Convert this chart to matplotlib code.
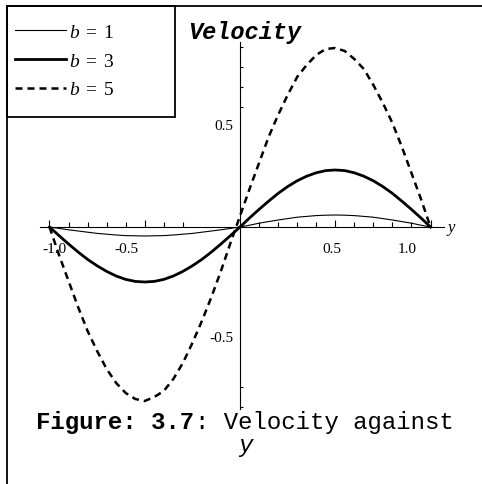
import numpy as np
import matplotlib
matplotlib.use('Agg')
import matplotlib.pyplot as plt
from matplotlib.lines import Line2D
from matplotlib.patches import Rectangle
from matplotlib.transforms import ScaledTranslation

plt.rcParams['mathtext.fontset'] = 'custom'
plt.rcParams['mathtext.rm'] = 'Liberation Serif'
plt.rcParams['mathtext.it'] = 'Liberation Serif:italic'

# velocity profiles across the channel
y = [-1.0, -0.95, -0.9, -0.85, -0.8, -0.75, -0.7, -0.65, -0.6, -0.55, -0.5,
     -0.45, -0.4, -0.35, -0.3, -0.25, -0.2, -0.15, -0.1, -0.05, 0.0,
     0.05, 0.1, 0.15, 0.2, 0.25, 0.3, 0.35, 0.4, 0.45, 0.5,
     0.55, 0.6, 0.65, 0.7, 0.75, 0.8, 0.85, 0.9, 0.95, 1.0]

u_b1 = [0, -0.007, -0.014, -0.020, -0.026, -0.032, -0.036, -0.040, -0.043, -0.044, -0.045,
        -0.044, -0.043, -0.040, -0.036, -0.032, -0.026, -0.020, -0.014, -0.007, 0,
        0.009, 0.019, 0.027, 0.035, 0.042, 0.049, 0.053, 0.057, 0.059, 0.060,
        0.059, 0.057, 0.053, 0.049, 0.042, 0.035, 0.027, 0.019, 0.009, 0]

u_b3 = [0, -0.043, -0.085, -0.125, -0.162, -0.194, -0.222, -0.245, -0.262, -0.272, -0.275,
        -0.272, -0.262, -0.245, -0.222, -0.194, -0.162, -0.125, -0.085, -0.043, 0,
        0.045, 0.088, 0.129, 0.168, 0.202, 0.231, 0.254, 0.271, 0.282, 0.285,
        0.282, 0.271, 0.254, 0.231, 0.202, 0.168, 0.129, 0.088, 0.045, 0]

u_b5 = [0, -0.14, -0.27, -0.40, -0.52, -0.62, -0.71, -0.78, -0.83, -0.86, -0.87,
        -0.85, -0.82, -0.76, -0.68, -0.58, -0.47, -0.35, -0.22, -0.08, 0.055,
        0.19, 0.32, 0.45, 0.56, 0.66, 0.75, 0.81, 0.86, 0.89, 0.895,
        0.88, 0.84, 0.79, 0.71, 0.62, 0.52, 0.40, 0.27, 0.14, 0]

labels = [r'$b\;=\;1$', r'$b\;=\;3$', r'$b\;=\;5$']

x_major = [-1.0, -0.5, 0.5, 1.0]
x_major_labels = ['-1.0', '-0.5', '0.5', '1.0']
x_minor = [-0.9, -0.8, -0.7, -0.6, -0.4, -0.3, 0.1, 0.2, 0.3, 0.4,
           0.6, 0.7, 0.8, 0.9]
y_major = [-0.5, 0.5]
y_major_labels = ['-0.5', '0.5']
y_minor = [-0.9, -0.8, 0.6, 0.7, 0.8, 0.9]

W, H = 482, 485
fig = plt.figure(figsize=(W / 100, H / 100), dpi=100)
ax = fig.add_axes([0, 0, 1, 1])
ax.patch.set_visible(False)

l1, = ax.plot(y, u_b1, color='black', lw=0.8)
l3, = ax.plot(y, u_b3, color='black', lw=2.0)
l5, = ax.plot(y, u_b5, color='black', lw=1.8, linestyle=(0, (2.8, 2.0)))

ax.set_xlim(-240 / 190.5, 242 / 190.5)
ax.set_ylim(-257 / 200, 228 / 200)

for s in ['top', 'right']:
    ax.spines[s].set_visible(False)
ax.spines['left'].set_position(('data', 0))
ax.spines['bottom'].set_position(('data', 0))
ax.spines['bottom'].set_bounds(-1.05, 1.07)
ax.spines['left'].set_bounds(-0.91, 0.925)
for s in ['left', 'bottom']:
    ax.spines[s].set_linewidth(0.8)

tick_font = {'family': 'Liberation Serif', 'size': 11}
ax.set_xticks(x_major)
ax.set_xticklabels(x_major_labels, fontdict=tick_font)
ax.set_xticks(x_minor, minor=True)
ax.set_yticks(y_major)
ax.set_yticklabels(y_major_labels, fontdict=tick_font)
ax.set_yticks(y_minor, minor=True)
ax.tick_params(axis='x', which='major', direction='in', length=5, width=0.8, pad=11)
ax.tick_params(axis='x', which='minor', direction='in', length=3.6, width=0.8)
ax.tick_params(axis='y', which='major', direction='in', length=0, pad=5)
ax.tick_params(axis='y', which='minor', direction='in', length=2.5, width=0.8)

# shift tick labels sideways / up-down (pixels)
for lab, dx in zip(ax.get_xticklabels(), [5, -18, -3, -23]):
    lab.set_transform(lab.get_transform() + ScaledTranslation(dx / 100, 0, fig.dpi_scale_trans))
for lab, dy in zip(ax.get_yticklabels(), [-9, 3]):
    lab.set_transform(lab.get_transform() + ScaledTranslation(0, dy / 100, fig.dpi_scale_trans))

ax.text(1.087, 0.0, 'y', family='Liberation Serif', style='italic', fontsize=12,
        ha='left', va='center')

fig.text(188 / W, 1 - 32 / H, 'Velocity', family='Liberation Mono', weight='bold',
         style='italic', fontsize=17, ha='left', va='center')

# caption: bold prefix, then the rest in regular weight (monospace, so step by char width)
cap_size = 17.3
char_w = 0.6 * cap_size * 100 / 72
cap_x = 36
cap_y = 1 - 429 / H
fig.text(cap_x / W, cap_y, 'Figure: 3.7', family='Liberation Mono', weight='bold',
         fontsize=cap_size, ha='left', va='baseline')
fig.text((cap_x + 11 * char_w) / W, cap_y, ': Velocity against', family='Liberation Mono',
         fontsize=cap_size, ha='left', va='baseline')
fig.text(245 / W, 1 - 452 / H, 'y', family='Liberation Mono', style='italic',
         fontsize=cap_size, ha='center', va='baseline')

# outer frame and legend box
fig.add_artist(Line2D([7 / W, 1], [1 - 7 / H, 1 - 7 / H], color='black', lw=1.3,
                      transform=fig.transFigure))
fig.add_artist(Line2D([7 / W, 7 / W], [0, 1 - 7 / H], color='black', lw=1.3,
                      transform=fig.transFigure))
fig.add_artist(Rectangle((7 / W, 1 - 118 / H), 168 / W, 111 / H, fill=False,
                         ec='black', lw=1.3, transform=fig.transFigure))

fig.legend([l1, l3, l5], labels, loc='upper left', bbox_to_anchor=(15 / W, 1 - 23 / H),
           frameon=False, fontsize=14, handlelength=2.6, handletextpad=0.2,
           labelspacing=0.5, borderpad=0, borderaxespad=0)

fig.savefig('out.png', dpi=100)
